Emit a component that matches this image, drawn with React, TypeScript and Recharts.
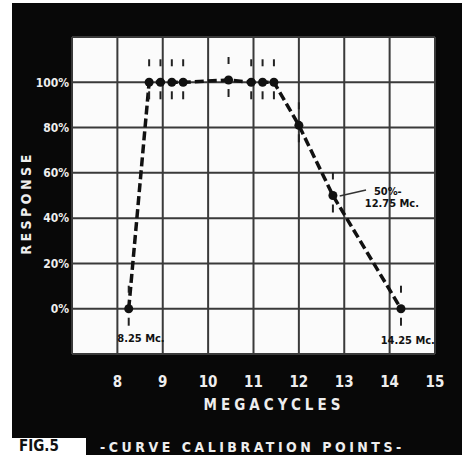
import { LineChart, Line, XAxis, YAxis, CartesianGrid, ReferenceDot, ReferenceLine } from "recharts";

const mhz = [8.25, 8.7, 8.95, 9.2, 9.45, 10.45, 10.95, 11.2, 11.45, 12, 12.75, 14.25];
const response = [0, 100, 100, 100, 100, 101, 100, 100, 100, 81, 50, 0];
const xTicks = [7, 8, 9, 10, 11, 12, 13, 14, 15];
const yTicks = [0, 20, 40, 60, 80, 100];

const data = mhz.map((m, i) => ({ mhz: m, response: response[i] }));

const letterFont = "'DejaVu Sans Condensed', 'DejaVu Sans', sans-serif";

function CalDot(props: any) {
  const { cx, cy, index } = props;
  if (cx == null || cy == null) return null;
  return (
    <g key={`dot-${index}`}>
      <line x1={cx} y1={cy - 23} x2={cx} y2={cy - 16} stroke="#222" strokeWidth={2} />
      <line x1={cx} y1={cy + 9} x2={cx} y2={cy + 17} stroke="#222" strokeWidth={2} />
      <circle cx={cx} cy={cy} r={4.5} fill="#111" />
    </g>
  );
}

const note = (value: string) => ({
  value,
  position: "center" as const,
  fill: "#111",
  fontSize: 11,
  fontWeight: 700,
  fontFamily: letterFont,
});

export default function App() {
  return (
    <div style={{ position: "absolute", left: 0, top: 0, width: 468, height: 455, background: "#fff", overflow: "hidden" }}>
      <div style={{ position: "absolute", left: 12, top: 3, width: 450, height: 452, background: "#080808" }} />
      <div style={{ position: "absolute", left: 0, top: 0 }}>
        <LineChart width={468} height={455} data={data} margin={{ top: 37, right: 33, left: 12, bottom: 71 }}>
          <CartesianGrid fill="#fbfbfb" stroke="#3a3a3a" strokeWidth={2} />
          <XAxis
            dataKey="mhz"
            type="number"
            domain={[7, 15]}
            ticks={xTicks}
            tickFormatter={(v: number) => (v === 7 ? "" : String(v))}
            height={30}
            axisLine={false}
            tickLine={false}
            tickSize={0}
            tickMargin={22}
            tick={{ fill: "#eee", fontSize: 15, fontWeight: 700, fontFamily: letterFont }}
          />
          <YAxis
            type="number"
            domain={[-20, 120]}
            ticks={yTicks}
            width={60}
            axisLine={false}
            tickLine={false}
            tickSize={0}
            tickMargin={3}
            tickFormatter={(v: number) => `${v}%`}
            tick={{ fill: "#eee", fontSize: 12, fontWeight: 700, fontFamily: letterFont }}
          />
          <ReferenceLine
            segment={[{ x: 12.9, y: 49.8 }, { x: 13.48, y: 52.4 }]}
            stroke="#333"
            strokeWidth={1.5}
          />
          <Line
            dataKey="response"
            type="linear"
            stroke="#111"
            strokeWidth={3.5}
            strokeDasharray="9 4"
            dot={CalDot}
            activeDot={false}
            isAnimationActive={false}
          />
          <ReferenceDot x={8.52} y={-12.8} r={0} fill="none" stroke="none" label={note("8.25 Mc.")} />
          <ReferenceDot x={14.4} y={-13.7} r={0} fill="none" stroke="none" label={note("14.25 Mc.")} />
          <ReferenceDot x={13.96} y={52} r={0} fill="none" stroke="none" label={note("50%-")} />
          <ReferenceDot x={14.05} y={46.7} r={0} fill="none" stroke="none" label={note("12.75 Mc.")} />
        </LineChart>
      </div>
      <div
        style={{
          position: "absolute",
          left: 26,
          top: 203,
          transform: "translate(-50%, -50%) rotate(-90deg)",
          color: "#eee",
          fontFamily: letterFont,
          fontWeight: 700,
          fontSize: 14,
          letterSpacing: 3.5,
          whiteSpace: "nowrap",
        }}
      >
        RESPONSE
      </div>
      <div
        style={{
          position: "absolute",
          left: 274,
          top: 405,
          transform: "translate(-50%, -50%)",
          color: "#eee",
          fontFamily: letterFont,
          fontWeight: 700,
          fontSize: 15,
          letterSpacing: 4,
          whiteSpace: "nowrap",
        }}
      >
        MEGACYCLES
      </div>
      <div
        style={{
          position: "absolute",
          left: 12,
          top: 438,
          width: 74,
          height: 17,
          background: "#fff",
          color: "#111",
          fontFamily: letterFont,
          fontWeight: 700,
          fontSize: 15,
          lineHeight: "17px",
          paddingLeft: 7,
          boxSizing: "border-box",
          overflow: "hidden",
        }}
      >
        FIG.5
      </div>
      <div
        style={{
          position: "absolute",
          left: 100,
          top: 439,
          color: "#eee",
          fontFamily: letterFont,
          fontWeight: 700,
          fontSize: 14,
          letterSpacing: 3.5,
          whiteSpace: "nowrap",
          lineHeight: "16px",
        }}
      >
        -CURVE CALIBRATION POINTS-
      </div>
    </div>
  );
}
